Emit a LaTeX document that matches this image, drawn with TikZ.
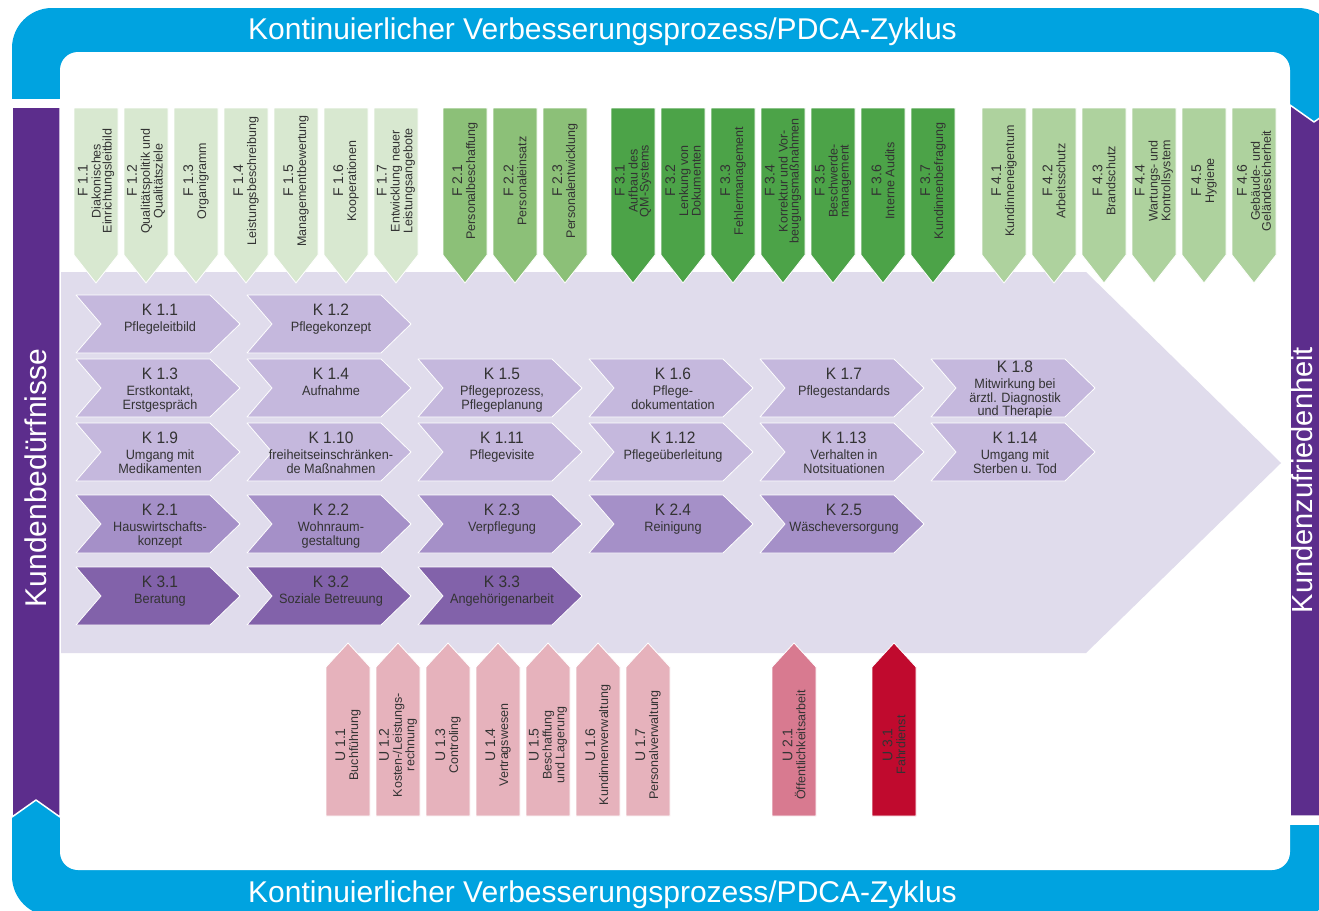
\documentclass[tikz,border=0pt]{standalone}
\usepackage{fontspec}
\setmainfont{Liberation Sans}
\newfontfamily\schmal[FakeStretch=0.94]{Liberation Sans}
\definecolor{pdca}{RGB}{0,163,224}
\definecolor{kunde}{RGB}{92,45,140}
\definecolor{flaeche}{RGB}{224,220,236}
\definecolor{kA}{RGB}{197,184,221}
\definecolor{kB}{RGB}{165,144,200}
\definecolor{kC}{RGB}{130,98,170}
\definecolor{fA}{RGB}{216,232,208}
\definecolor{fB}{RGB}{140,192,120}
\definecolor{fC}{RGB}{76,163,72}
\definecolor{fD}{RGB}{174,210,158}
\definecolor{uA}{RGB}{230,178,188}
\definecolor{uB}{RGB}{216,122,144}
\definecolor{uC}{RGB}{192,10,46}
\definecolor{schrift}{RGB}{51,51,51}

% Pfeil nach unten (Fuehrungsprozesse)
\newcommand{\fpfeil}[4]{%
	\fill[#3,draw=white,line width=0.8] (#2,108) -- ++(44,0) -- ++(0,147) -- ++(-22,28) -- ++(-22,-28) -- cycle;
	\node[ftext] (#1) at ({#2+22},181) {#4};}
% Pfeil nach oben (Unterstuetzungsprozesse)
\newcommand{\upfeil}[4]{%
	\fill[#3,draw=white,line width=0.8] (#2,816) -- ++(44,0) -- ++(0,-149) -- ++(-22,-24) -- ++(-22,24) -- cycle;
	\node[ftext] (#1) at ({#2+22},745) {#4};}
% Chevron (Kernprozesse)
\newcommand{\kpfeil}[6][9]{%
	\fill[#5,draw=white,line width=0.8] (#3,#4) -- ++(134,0) -- ++(30,29) -- ++(-30,29) -- ++(-134,0) -- ++(25,-29) -- cycle;
	\node[ktext] (#2) at ({#3+84},{#4+#1}) {#6};}
\newcommand{\fnum}[1]{{\fontsize{14}{14}\selectfont #1}\\[2pt]}
\newcommand{\knum}[1]{{\fontsize{16.5}{16.5}\selectfont #1}\\[2.5pt]}

\begin{document}
\begin{tikzpicture}[x=1pt, y=-1pt, line join=round,
	ftext/.style={rotate=90, align=center, inner sep=0, text=schrift, font=\fontsize{12.5}{11}\selectfont},
	ktext/.style={anchor=north, align=center, inner sep=0, text=schrift, font=\schmal\fontsize{13.5}{13.5}\selectfont},
	titel/.style={anchor=base west, inner sep=0, text=white, font=\fontsize{30}{30}\selectfont},
	seite/.style={rotate=90, anchor=base, inner sep=0, text=white, font=\fontsize{30}{30}\selectfont}]
\useasboundingbox (0,0) rectangle (1319,910);
\clip (0,0) rectangle (1319,910);
\fill[white] (0,0) rectangle (1319,910);
%========================
% PDCA-Rahmen
%========================
\fill[pdca, rounded corners=40] (12,8) rectangle (1338,916);
\fill[white, rounded corners=18] (60,52) rectangle (1290,870);
\fill[white] (12,99) rectangle (60,107);
\fill[white] (1290,816) rectangle (1338,825);
\node[titel] (pdcaoben) at (248,39) {Kontinuierlicher Verbesserungsprozess/PDCA-Zyklus};
\node[titel] (pdcaunten) at (248,902) {Kontinuierlicher Verbesserungsprozess/PDCA-Zyklus};
% Kundenbalken
\fill[kunde, draw=white, line width=1.5] (12,107) -- (60,107) -- (60,817) -- (36,800) -- (12,817) -- cycle;
\fill[kunde, draw=white, line width=1.5] (1290,105) -- (1314,122) -- (1338,105) -- (1338,816) -- (1290,816) -- cycle;
\node[seite] (bedarf) at (46,478) {Kundenbedürfnisse};
\node[seite, font=\fontsize{29}{29}\selectfont] (zufrieden) at (1312,480) {Kundenzufriedenheit};

% grosser Prozesspfeil
\fill[flaeche] (61,272) -- (1086,272) -- (1281,463) -- (1086,653) -- (61,653) -- cycle;

%========================
% Fuehrungsprozesse F
%========================
\fpfeil{f11}{74}{fA}{\fnum{F 1.1}Diakonisches\\Einrichtungsleitbild}
\fpfeil{f12}{124}{fA}{\fnum{F 1.2}Qualitätspolitik und\\Qualitätsziele}
\fpfeil{f13}{174}{fA}{\fnum{F 1.3}Organigramm}
\fpfeil{f14}{224}{fA}{\fnum{F 1.4}Leistungsbeschreibung}
\fpfeil{f15}{274}{fA}{\fnum{F 1.5}Managementbewertung}
\fpfeil{f16}{324}{fA}{\fnum{F 1.6}Kooperationen}
\fpfeil{f17}{374}{fA}{\fnum{F 1.7}Entwicklung neuer\\Leistungsangebote}
\fpfeil{f21}{443}{fB}{\fnum{F 2.1}Personalbeschaffung}
\fpfeil{f22}{493}{fB}{\fnum{F 2.2}Personaleinsatz}
\fpfeil{f23}{543}{fB}{\fnum{F 2.3}Personalentwicklung}
\fpfeil{f31}{611}{fC}{\fnum{F 3.1}Aufbau des\\QM-Systems}
\fpfeil{f32}{661}{fC}{\fnum{F 3.2}Lenkung von\\Dokumenten}
\fpfeil{f33}{711}{fC}{\fnum{F 3.3}Fehlermanagement}
\fpfeil{f34}{761}{fC}{\fnum{F 3.4}Korrektur und Vor-\\beugungsmaßnahmen}
\fpfeil{f35}{811}{fC}{\fnum{F 3.5}Beschwerde-\\management}
\fpfeil{f36}{861}{fC}{\fnum{F 3.6}Interne Audits}
\fpfeil{f37}{911}{fC}{\fnum{F 3.7}Kundinnenbefragung}
\fpfeil{f41}{982}{fD}{\fnum{F 4.1}Kundinneneigentum}
\fpfeil{f42}{1032}{fD}{\fnum{F 4.2}Arbeitsschutz}
\fpfeil{f43}{1082}{fD}{\fnum{F 4.3}Brandschutz}
\fpfeil{f44}{1132}{fD}{\fnum{F 4.4}Wartungs- und\\Kontrollsystem}
\fpfeil{f45}{1182}{fD}{\fnum{F 4.5}Hygiene}
\fpfeil{f46}{1232}{fD}{\fnum{F 4.6}Gebäude- und\\Geländesicherheit}

%========================
% Unterstuetzungsprozesse U
%========================
\upfeil{u11}{326}{uA}{\fnum{U 1.1}Buchführung}
\upfeil{u12}{376}{uA}{\fnum{U 1.2}Kosten-/Leistungs-\\rechnung}
\upfeil{u13}{426}{uA}{\fnum{U 1.3}Controling}
\upfeil{u14}{476}{uA}{\fnum{U 1.4}Vertragswesen}
\upfeil{u15}{526}{uA}{\fnum{U 1.5}Beschaffung\\und Lagerung}
\upfeil{u16}{576}{uA}{\fnum{U 1.6}Kundinnenverwaltung}
\upfeil{u17}{626}{uA}{\fnum{U 1.7}Personalverwaltung}
\upfeil{u21}{772}{uB}{\fnum{U 2.1}Öffentlichkeitsarbeit}
\upfeil{u31}{872}{uC}{\fnum{U 3.1}Fahrdienst}

%========================
% Kernprozesse K
%========================
% K 1: Pflege
\kpfeil{k11}{76}{295}{kA}{\knum{K 1.1}Pflegeleitbild}
\kpfeil{k12}{247}{295}{kA}{\knum{K 1.2}Pflegekonzept}
\kpfeil{k13}{76}{359}{kA}{\knum{K 1.3}Erstkontakt,\\Erstgespräch}
\kpfeil{k14}{247}{359}{kA}{\knum{K 1.4}Aufnahme}
\kpfeil{k15}{418}{359}{kA}{\knum{K 1.5}Pflegeprozess,\\Pflegeplanung}
\kpfeil{k16}{589}{359}{kA}{\knum{K 1.6}Pflege-\\dokumentation}
\kpfeil{k17}{760}{359}{kA}{\knum{K 1.7}Pflegestandards}
\kpfeil[2]{k18}{931}{359}{kA}{\knum{K 1.8}Mitwirkung bei\\ärztl. Diagnostik\\und Therapie}
\kpfeil{k19}{76}{423}{kA}{\knum{K 1.9}Umgang mit\\Medikamenten}
\kpfeil{k110}{247}{423}{kA}{\knum{K 1.10}freiheitseinschränken-\\de Maßnahmen}
\kpfeil{k111}{418}{423}{kA}{\knum{K 1.11}Pflegevisite}
\kpfeil{k112}{589}{423}{kA}{\knum{K 1.12}Pflegeüberleitung}
\kpfeil{k113}{760}{423}{kA}{\knum{K 1.13}Verhalten in\\Notsituationen}
\kpfeil{k114}{931}{423}{kA}{\knum{K 1.14}Umgang mit\\Sterben u. Tod}
% K 2: Hauswirtschaft
\kpfeil{k21}{76}{495}{kB}{\knum{K 2.1}Hauswirtschafts-\\konzept}
\kpfeil{k22}{247}{495}{kB}{\knum{K 2.2}Wohnraum-\\gestaltung}
\kpfeil{k23}{418}{495}{kB}{\knum{K 2.3}Verpflegung}
\kpfeil{k24}{589}{495}{kB}{\knum{K 2.4}Reinigung}
\kpfeil{k25}{760}{495}{kB}{\knum{K 2.5}Wäscheversorgung}
% K 3: Betreuung
\kpfeil{k31}{76}{567}{kC}{\knum{K 3.1}Beratung}
\kpfeil{k32}{247}{567}{kC}{\knum{K 3.2}Soziale Betreuung}
\kpfeil{k33}{418}{567}{kC}{\knum{K 3.3}Angehörigenarbeit}
\end{tikzpicture}
\end{document}
